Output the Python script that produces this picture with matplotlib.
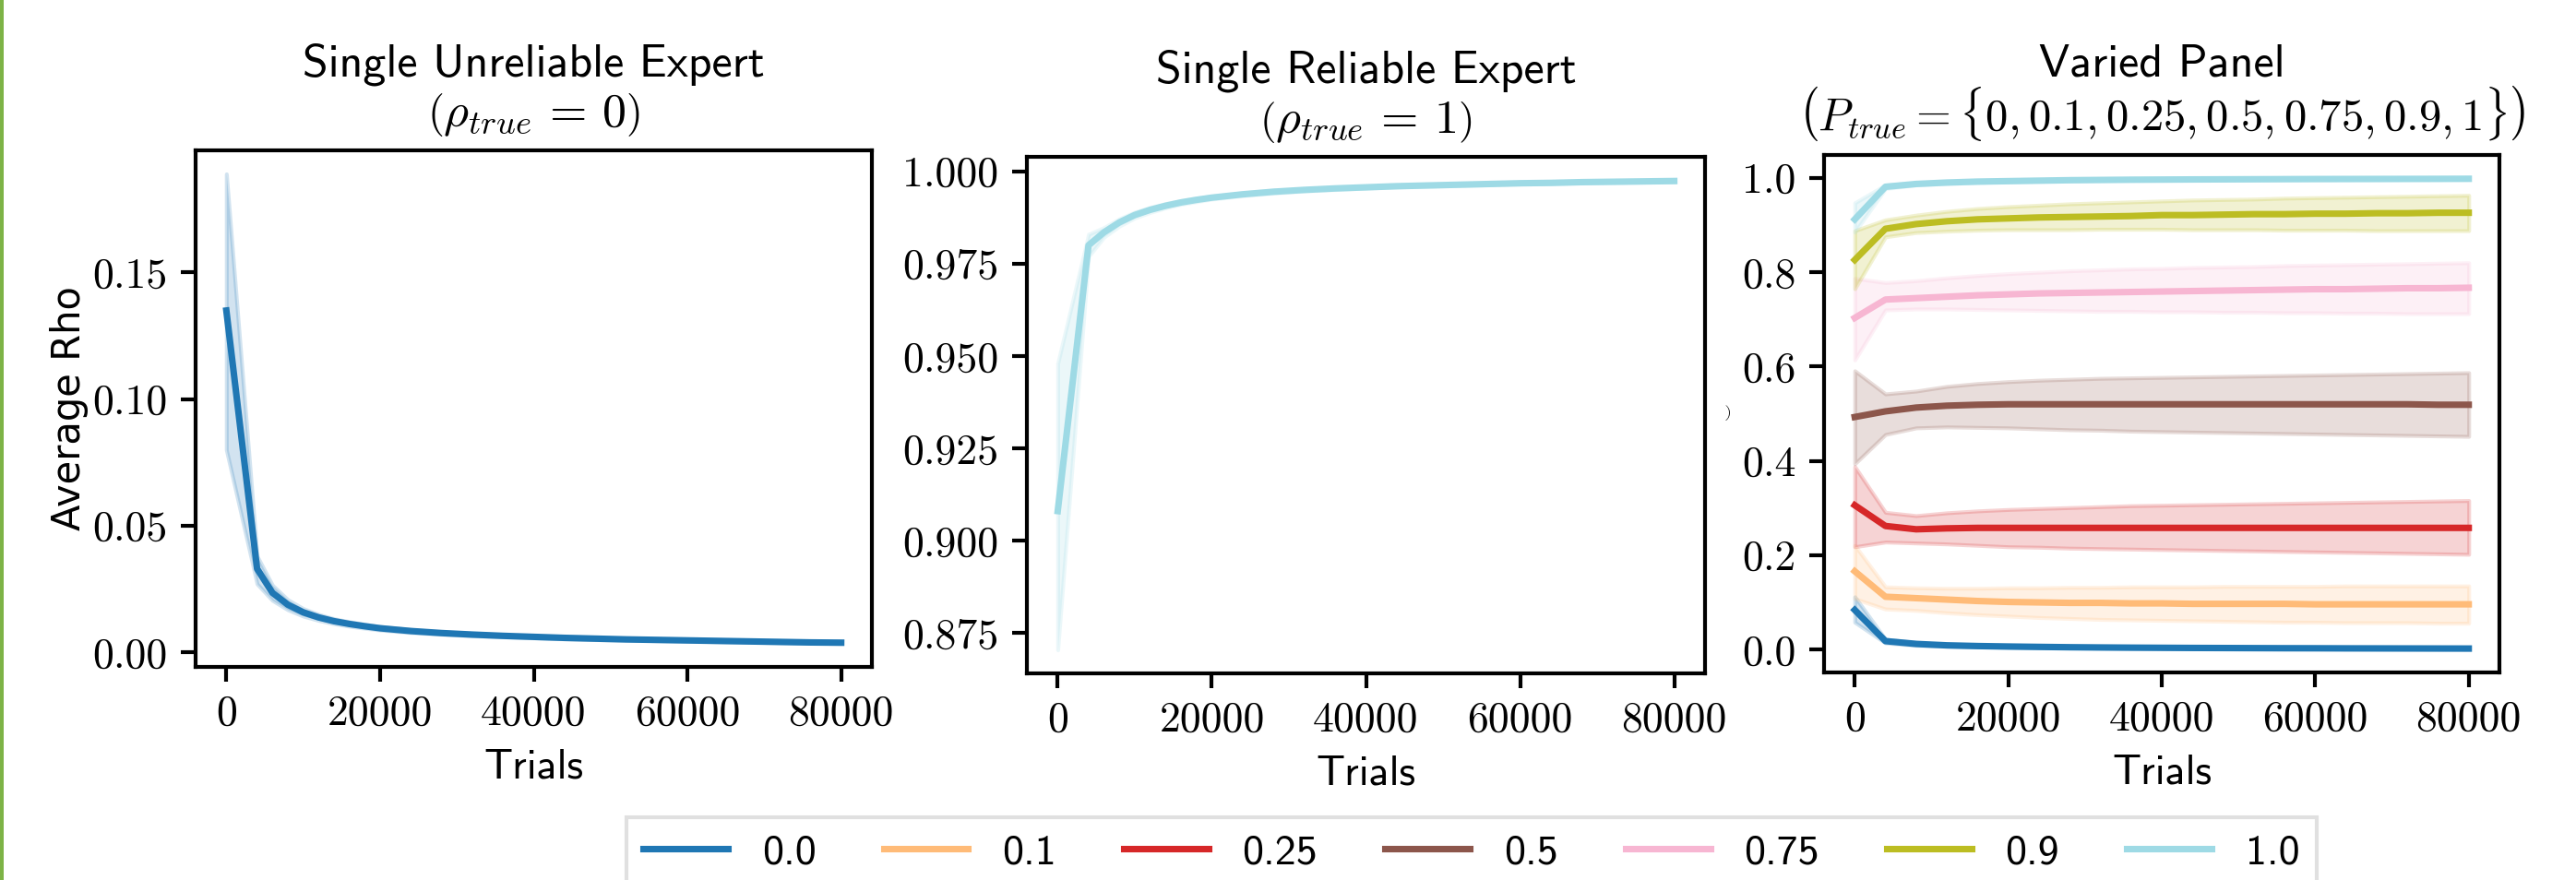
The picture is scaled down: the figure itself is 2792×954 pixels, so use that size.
import numpy as np
import matplotlib
matplotlib.use("Agg")
import matplotlib.pyplot as plt
from matplotlib.patches import Rectangle

plt.rcParams['mathtext.fontset'] = 'cm'
plt.rcParams['font.family'] = ['cmss10', 'DejaVu Sans']
plt.rcParams['axes.unicode_minus'] = False
plt.rcParams['axes.linewidth'] = 1.0
plt.rcParams['xtick.major.width'] = 1.0
plt.rcParams['ytick.major.width'] = 1.0
plt.rcParams['xtick.major.size'] = 3.8
plt.rcParams['ytick.major.size'] = 3.8

# ---------------- data ----------------
# finer sampling for the two single-expert panels
trials_single = [0, 4000, 6000, 8000, 10000, 12000, 14000, 16000, 18000, 20000, 24000, 28000,
                 32000, 36000, 40000, 44000, 48000, 52000, 56000, 60000, 64000, 68000, 72000,
                 76000, 80000]

# Single unreliable expert (rho_true = 0)
unrel_mean = [0.135, 0.033, 0.0235, 0.0188, 0.0158, 0.0138, 0.0123, 0.0112, 0.0103, 0.0095,
              0.0084, 0.0076, 0.0070, 0.0065, 0.0061, 0.0057, 0.0054, 0.0051, 0.0049, 0.0047,
              0.0045, 0.0043, 0.0041, 0.0039, 0.0038]
unrel_lo = [0.080, 0.027, 0.0205, 0.0168, 0.0143, 0.0126, 0.0113, 0.0103, 0.0095, 0.0088,
            0.0078, 0.0071, 0.0065, 0.0061, 0.0057, 0.0053, 0.0050, 0.0048, 0.0046, 0.0044,
            0.0042, 0.0040, 0.0038, 0.0036, 0.0035]
unrel_hi = [0.189, 0.038, 0.0265, 0.0208, 0.0173, 0.0150, 0.0133, 0.0121, 0.0111, 0.0102,
            0.0090, 0.0081, 0.0075, 0.0069, 0.0065, 0.0061, 0.0058, 0.0054, 0.0052, 0.0050,
            0.0048, 0.0046, 0.0044, 0.0042, 0.0041]

# Single reliable expert (rho_true = 1)
rel_mean = [0.908, 0.980, 0.9835, 0.9862, 0.9882, 0.9896, 0.9907, 0.9916, 0.9923, 0.9929,
            0.9938, 0.9945, 0.9950, 0.9954, 0.9957, 0.9960, 0.9962, 0.9964, 0.9966, 0.9968,
            0.9969, 0.9971, 0.9972, 0.9973, 0.9974]
rel_lo = [0.8704, 0.9770, 0.9822, 0.9852, 0.9874, 0.9889, 0.9901, 0.9911, 0.9918, 0.9925,
          0.9934, 0.9941, 0.9947, 0.9951, 0.9955, 0.9958, 0.9960, 0.9962, 0.9964, 0.9966,
          0.9967, 0.9969, 0.9970, 0.9971, 0.9972]
rel_hi = [0.948, 0.9830, 0.9848, 0.9872, 0.9890, 0.9903, 0.9913, 0.9921, 0.9928, 0.9933,
          0.9942, 0.9949, 0.9953, 0.9957, 0.9960, 0.9962, 0.9964, 0.9966, 0.9968, 0.9970,
          0.9971, 0.9973, 0.9974, 0.9975, 0.9976]

# Varied panel
trials = [0, 4000, 8000, 12000, 16000, 20000, 24000, 28000, 32000, 36000, 40000,
          44000, 48000, 52000, 56000, 60000, 64000, 68000, 72000, 76000, 80000]
panel_labels = ['0.0', '0.1', '0.25', '0.5', '0.75', '0.9', '1.0']
panel_colors = ['#1f77b4', '#ffbb78', '#d62728', '#8c564b', '#f7b6d2', '#bcbd22', '#9edae5']

p00_mean = [0.084, 0.018, 0.012, 0.009, 0.0075, 0.0065, 0.0057, 0.0050, 0.0045, 0.0041, 0.0038,
            0.0035, 0.0033, 0.0031, 0.0029, 0.0028, 0.0026, 0.0025, 0.0024, 0.0023, 0.0022]
p00_lo = [0.058, 0.014, 0.009, 0.007, 0.0058, 0.0050, 0.0044, 0.0039, 0.0035, 0.0032, 0.0030,
          0.0027, 0.0025, 0.0023, 0.0021, 0.0020, 0.0018, 0.0017, 0.0016, 0.0015, 0.0014]
p00_hi = [0.112, 0.022, 0.015, 0.011, 0.0092, 0.0080, 0.0070, 0.0061, 0.0055, 0.0050, 0.0046,
          0.0043, 0.0041, 0.0039, 0.0037, 0.0036, 0.0034, 0.0033, 0.0032, 0.0031, 0.0030]

p01_mean = [0.166, 0.112, 0.109, 0.106, 0.103, 0.101, 0.100, 0.099, 0.099, 0.098, 0.098,
            0.097, 0.097, 0.097, 0.097, 0.096, 0.096, 0.096, 0.096, 0.096, 0.096]
p01_lo = [0.108, 0.086, 0.083, 0.078, 0.074, 0.071, 0.068, 0.066, 0.064, 0.063, 0.062,
          0.061, 0.060, 0.059, 0.058, 0.058, 0.057, 0.057, 0.057, 0.056, 0.056]
p01_hi = [0.221, 0.133, 0.131, 0.130, 0.130, 0.131, 0.131, 0.132, 0.132, 0.133, 0.133,
          0.133, 0.134, 0.134, 0.134, 0.134, 0.135, 0.135, 0.135, 0.135, 0.135]

p025_mean = [0.306, 0.262, 0.255, 0.257, 0.258, 0.258, 0.258, 0.258, 0.258, 0.258, 0.258,
             0.258, 0.258, 0.258, 0.258, 0.258, 0.258, 0.258, 0.258, 0.258, 0.258]
p025_lo = [0.218, 0.228, 0.226, 0.224, 0.221, 0.218, 0.217, 0.215, 0.214, 0.213, 0.212,
           0.211, 0.210, 0.209, 0.208, 0.207, 0.206, 0.205, 0.204, 0.203, 0.202]
p025_hi = [0.388, 0.291, 0.284, 0.290, 0.294, 0.297, 0.299, 0.301, 0.303, 0.305, 0.306,
           0.307, 0.308, 0.309, 0.310, 0.311, 0.312, 0.313, 0.314, 0.315, 0.316]

p05_mean = [0.493, 0.505, 0.513, 0.517, 0.519, 0.520, 0.520, 0.520, 0.520, 0.520, 0.520,
            0.520, 0.520, 0.520, 0.520, 0.520, 0.520, 0.520, 0.520, 0.519, 0.519]
p05_lo = [0.394, 0.456, 0.470, 0.472, 0.471, 0.470, 0.468, 0.466, 0.465, 0.463, 0.462,
          0.461, 0.460, 0.459, 0.458, 0.457, 0.456, 0.455, 0.454, 0.453, 0.452]
p05_hi = [0.591, 0.542, 0.548, 0.558, 0.564, 0.568, 0.571, 0.573, 0.575, 0.576, 0.577,
          0.578, 0.579, 0.580, 0.581, 0.582, 0.583, 0.584, 0.585, 0.586, 0.587]

p075_mean = [0.703, 0.742, 0.745, 0.748, 0.751, 0.753, 0.755, 0.756, 0.757, 0.758, 0.759,
             0.760, 0.761, 0.762, 0.763, 0.764, 0.764, 0.765, 0.766, 0.766, 0.767]
p075_lo = [0.614, 0.720, 0.722, 0.722, 0.721, 0.720, 0.719, 0.718, 0.717, 0.717, 0.716,
           0.716, 0.715, 0.715, 0.714, 0.714, 0.713, 0.713, 0.712, 0.712, 0.712]
p075_hi = [0.787, 0.778, 0.782, 0.788, 0.793, 0.797, 0.800, 0.803, 0.805, 0.807, 0.808,
           0.810, 0.811, 0.812, 0.814, 0.815, 0.816, 0.817, 0.818, 0.819, 0.820]

p09_mean = [0.826, 0.892, 0.902, 0.908, 0.912, 0.914, 0.916, 0.917, 0.918, 0.919, 0.921,
            0.921, 0.922, 0.923, 0.923, 0.924, 0.924, 0.925, 0.925, 0.926, 0.926]
p09_lo = [0.765, 0.875, 0.884, 0.887, 0.889, 0.890, 0.890, 0.890, 0.891, 0.891, 0.891,
          0.890, 0.890, 0.890, 0.889, 0.889, 0.889, 0.888, 0.888, 0.888, 0.888]
p09_hi = [0.888, 0.911, 0.921, 0.929, 0.935, 0.939, 0.942, 0.945, 0.947, 0.949, 0.951,
          0.953, 0.954, 0.955, 0.957, 0.958, 0.959, 0.960, 0.961, 0.962, 0.963]

p10_mean = [0.912, 0.981, 0.987, 0.990, 0.992, 0.993, 0.994, 0.995, 0.9955, 0.996, 0.9963,
            0.9966, 0.9968, 0.9970, 0.9972, 0.9974, 0.9975, 0.9976, 0.9977, 0.9978, 0.9980]
p10_lo = [0.885, 0.977, 0.985, 0.988, 0.990, 0.992, 0.993, 0.994, 0.995, 0.9955, 0.9960,
          0.9963, 0.9965, 0.9967, 0.9969, 0.9971, 0.9972, 0.9973, 0.9974, 0.9975, 0.9977]
p10_hi = [0.947, 0.985, 0.989, 0.992, 0.994, 0.995, 0.996, 0.996, 0.9965, 0.997, 0.9972,
          0.9974, 0.9976, 0.9978, 0.9980, 0.9981, 0.9982, 0.9983, 0.9984, 0.9985, 0.9986]

panel_means = [p00_mean, p01_mean, p025_mean, p05_mean, p075_mean, p09_mean, p10_mean]
panel_los = [p00_lo, p01_lo, p025_lo, p05_lo, p075_lo, p09_lo, p10_lo]
panel_his = [p00_hi, p01_hi, p025_hi, p05_hi, p075_hi, p09_hi, p10_hi]

title_line1 = ["Single Unreliable Expert", "Single Reliable Expert", "Varied Panel"]
title_line2 = [r"$\left(\rho_{true} \,=\, 0\right)$",
               r"$\left(\rho_{true} \,=\, 1\right)$",
               r"$\left(P_{true} = \{0, 0.1, 0.25, 0.5, 0.75, 0.9, 1\}\right)$"]

# ---------------- figure ----------------
W, H = 2792, 954
DPI = 300
fig = plt.figure(figsize=(W / DPI, H / DPI), dpi=DPI)


def px_axes(l, t, r, b):
    return fig.add_axes([l / W, 1 - b / H, (r - l) / W, (b - t) / H])


ax1 = px_axes(212, 163, 945, 723)
ax2 = px_axes(1113, 170, 1848, 730)
ax3 = px_axes(1977, 168, 2709, 729)

FS = 11
TICKFONT = 'cmr10'


def draw(ax, x, mean, lo, hi, color, label=None):
    ax.fill_between(x, lo, hi, color=color, alpha=0.2, linewidth=1.0)
    ax.plot(x, mean, color=color, lw=1.7, label=label)


draw(ax1, trials_single, unrel_mean, unrel_lo, unrel_hi, '#1f77b4')
draw(ax2, trials_single, rel_mean, rel_lo, rel_hi, '#9edae5')
for m, lo, hi, c, lab in zip(panel_means, panel_los, panel_his, panel_colors, panel_labels):
    draw(ax3, trials, m, lo, hi, c, lab)

math_sizes = [12.5, 12.5, 11.7]
line1_offsets = [19.4, 19.4, 20.6]
for ax, l1, l2, ms, off in zip([ax1, ax2, ax3], title_line1, title_line2, math_sizes, line1_offsets):
    ax.annotate(l1, xy=(0.5, 1.0), xycoords='axes fraction', xytext=(0, off),
                textcoords='offset points', ha='center', va='baseline', fontsize=12)
    ax.annotate(l2, xy=(0.5, 1.0), xycoords='axes fraction', xytext=(0, 6.3),
                textcoords='offset points', ha='center', va='baseline', fontsize=ms)
    ax.set_xlabel("Trials", fontsize=FS, labelpad=4)
    ax.set_xticks([0, 20000, 40000, 60000, 80000])
    for lbl in ax.get_xticklabels():
        lbl.set_fontfamily(TICKFONT)
        lbl.set_fontsize(FS)

ax1.set_yticks([0.00, 0.05, 0.10, 0.15])
ax1.set_yticklabels(['0.00', '0.05', '0.10', '0.15'], fontfamily=TICKFONT, fontsize=FS)
ax2.set_yticks([0.875, 0.900, 0.925, 0.950, 0.975, 1.000])
ax2.set_yticklabels(['0.875', '0.900', '0.925', '0.950', '0.975', '1.000'], fontfamily=TICKFONT, fontsize=FS)
ax3.set_yticks([0.0, 0.2, 0.4, 0.6, 0.8, 1.0])
ax3.set_yticklabels(['0.0', '0.2', '0.4', '0.6', '0.8', '1.0'], fontfamily=TICKFONT, fontsize=FS)

ax1.set_ylabel("Average Rho", fontsize=10, fontfamily='DejaVu Sans', labelpad=1)
ax3.set_ylabel(r"$\smile$", fontsize=4.5, labelpad=2)

handles, labels = ax3.get_legend_handles_labels()
fig.legend(handles, labels, loc='upper left', bbox_to_anchor=(679 / W, 1 - 886 / H),
           ncol=7, fontsize=FS, frameon=True, fancybox=False, borderaxespad=0,
           edgecolor='0.85', columnspacing=1.6, handlelength=2.0)

# green border strip at left edge
fig.patches.append(Rectangle((0, 0), 4 / W, 1, transform=fig.transFigure,
                             facecolor='#7db346', edgecolor='none'))

fig.savefig('out.png', dpi=DPI)
